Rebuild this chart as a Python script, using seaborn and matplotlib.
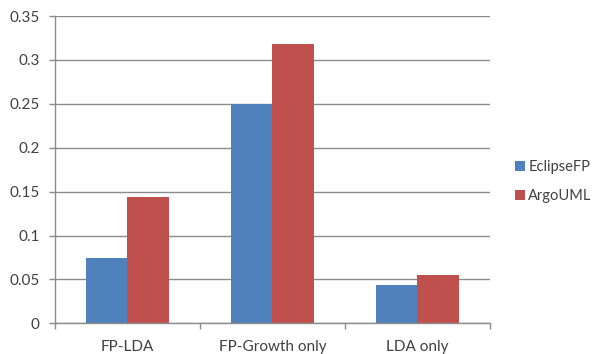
import matplotlib
matplotlib.use("Agg")
import matplotlib.pyplot as plt
import seaborn as sns
import pandas as pd
from matplotlib.patches import Patch

categories = ["FP-LDA", "FP-Growth only", "LDA only"]
eclipsefp = [0.074, 0.250, 0.044]
argouml = [0.144, 0.318, 0.055]
series_names = ["EclipseFP", "ArgoUML"]
yticks = [0, 0.05, 0.1, 0.15, 0.2, 0.25, 0.3, 0.35]
ytick_labels = ["0", "0.05", "0.1", "0.15", "0.2", "0.25", "0.3", "0.35"]

colors = ["#4F81BD", "#C0504D"]
text_color = "#404040"
grid_color = "#8C8C8C"

df = pd.DataFrame({
    "category": categories * 2,
    "value": eclipsefp + argouml,
    "series": [series_names[0]] * 3 + [series_names[1]] * 3,
})

sns.set_theme(style="white")
plt.rcParams["font.family"] = ["Lato", "DejaVu Sans"]

fig = plt.figure(figsize=(5.95, 3.54), dpi=100)
ax = fig.add_axes([0.0924, 0.0867, 0.7311, 0.8681])

sns.barplot(data=df, x="category", y="value", hue="series", order=categories,
            hue_order=series_names, palette=colors, width=0.572, saturation=1,
            edgecolor="none", linewidth=0, ax=ax, legend=False)

ax.set_xlim(-0.5, 2.5)
ax.set_ylim(0, 0.35)
ax.set_yticks(yticks)
ax.set_yticklabels(ytick_labels)
ax.set_xlabel("")
ax.set_ylabel("")

ax.yaxis.grid(True, color=grid_color, linewidth=1.0)
ax.set_axisbelow(True)

for side in ["top", "right"]:
    ax.spines[side].set_visible(False)
for side in ["left", "bottom"]:
    ax.spines[side].set_color(grid_color)
    ax.spines[side].set_linewidth(1.0)

ax.tick_params(axis="y", which="major", left=True, length=4, width=1.0,
               color=grid_color, pad=7, labelsize=11, labelcolor=text_color)
ax.set_xticks([-0.5, 0.5, 1.5, 2.5], minor=True)
ax.tick_params(axis="x", which="minor", bottom=True, length=4, width=1.0,
               color=grid_color)
ax.tick_params(axis="x", which="major", bottom=False, length=0, pad=12,
               labelsize=11, labelcolor=text_color)

handles = [Patch(facecolor=c, edgecolor="none", label=n)
           for c, n in zip(colors, series_names)]
fig.legend(handles=handles, loc="center left", bbox_to_anchor=(0.866, 0.487),
           frameon=False, borderpad=0, borderaxespad=0,
           handlelength=0.65, handleheight=0.65, handletextpad=0.25,
           labelspacing=1.05, fontsize=10.5, labelcolor=text_color)

fig.savefig("out.png", dpi=100, facecolor="white")
